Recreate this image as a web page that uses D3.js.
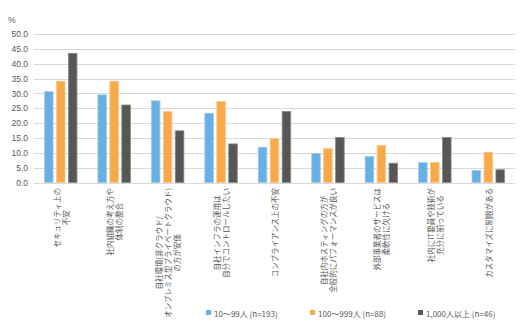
<!DOCTYPE html>
<html><head><meta charset="utf-8">
<script src="https://cdn.jsdelivr.net/npm/d3@7"></script>
<style>body{margin:0;background:#fff}svg{display:block}</style>
</head><body>
<svg id="c" width="525" height="321"></svg>
<script>
const categories = [
  ["セキュリティ上の","不安"],
  ["社内組織の考え方や","体制の整合"],
  ["自社環境(非クラウド/","オンプレミス型プライベートクラウド)","の方が安価"],
  ["自社インフラの運用は","自分でコントロールしたい"],
  ["コンプライアンス上の不安"],
  ["自社内ホスティングの方が","全般的にパフォーマンスが良い"],
  ["外部事業者のサービスは","柔軟性に欠ける"],
  ["社内にIT要員や技術が","充分に揃っている"],
  ["カスタマイズに制限がある"]
];
const seriesNames = ["10～99人 (n=193)","100～999人 (n=88)","1,000人以上 (n=46)"];
const small  = [30.6, 29.5, 27.5, 23.3, 11.9, 9.8, 8.8, 6.7, 4.1];
const medium = [34.1, 34.1, 23.9, 27.3, 14.8, 11.4, 12.5, 6.8, 10.2];
const large  = [43.5, 26.1, 17.4, 13.0, 23.9, 15.2, 6.5, 15.2, 4.3];
const yTicks = [0,5,10,15,20,25,30,35,40,45,50];
const colors = ["#6aafe1","#f8a94a","#575757"];
const strokes = ["#9ccbee","#fbc98c","#8a8a8a"];

const svg = d3.select("#c");
const x0 = d3.scaleBand().domain(d3.range(categories.length)).range([34, 515]);
const x1 = d3.scaleBand().domain([0,1,2]).range([0, 32.5]).paddingInner(0.28);
const y = d3.scaleLinear().domain([0,50]).range([182.5, 34]);

svg.append("g").selectAll("line").data(yTicks).join("line")
  .attr("x1", 34).attr("x2", 515)
  .attr("y1", d=>Math.round(y(d))+0.5).attr("y2", d=>Math.round(y(d))+0.5)
  .attr("stroke", "#d9d9d9").attr("stroke-width", 1);

const yAxis = d3.axisLeft(y).tickValues(yTicks).tickFormat(d3.format(".1f")).tickSize(0).tickPadding(6);
const ga = svg.append("g").attr("transform", "translate(34,0)").call(yAxis);
ga.select(".domain").remove();
ga.selectAll("text").attr("fill","#595959").style("font-family","Arial, 'Liberation Sans', sans-serif").style("font-size","8.5px");

svg.append("text").attr("x", 8).attr("y", 23).text("%")
  .attr("fill","#595959").style("font-family","Arial, 'Liberation Sans', sans-serif").style("font-size","8.5px");

const series = [small, medium, large];
const groups = svg.append("g").selectAll("g").data(categories).join("g")
  .attr("transform", (d,i)=>`translate(${x0(i)+x0.bandwidth()/2-16.25},0)`);
groups.selectAll("rect").data((d,i)=>series.map((s,k)=>({k, v:s[i]}))).join("rect")
  .attr("x", d=>x1(d.k)).attr("width", x1.bandwidth())
  .attr("y", d=>y(d.v)).attr("height", d=>y(0)-y(d.v))
  .attr("fill", d=>colors[d.k]).attr("stroke", d=>strokes[d.k]).attr("stroke-width", 0.8);

const lh = 9;
categories.forEach((lines, i) => {
  const cx = x0(i) + x0.bandwidth()/2;
  const g = svg.append("g").attr("transform", `translate(${cx},188) rotate(-90)`);
  const texts = lines.map((t, j) => g.append("text").text(t)
    .attr("fill","#595959").style("font-family","'Noto Sans CJK JP', sans-serif").style("font-size","7.5px")
    .attr("text-anchor","middle").attr("dominant-baseline","central"));
  const maxW = d3.max(texts, t => t.node().getComputedTextLength());
  const n = lines.length;
  texts.forEach((t, j) => t.attr("x", -maxW/2).attr("y", (j - (n-1)/2) * lh));
});

const legX = [206, 310, 418];
const lg = svg.append("g").selectAll("g").data(seriesNames).join("g")
  .attr("transform", (d,i)=>`translate(${legX[i]},313)`);
lg.append("rect").attr("x",0).attr("y",-3).attr("width",5).attr("height",5).attr("fill",(d,i)=>colors[i]);
lg.append("text").attr("x",8).attr("y",0).attr("dominant-baseline","central").text(d=>d)
  .attr("fill","#595959").style("font-family","'Noto Sans CJK JP', sans-serif").style("font-size","8px");
</script>
</body></html>
